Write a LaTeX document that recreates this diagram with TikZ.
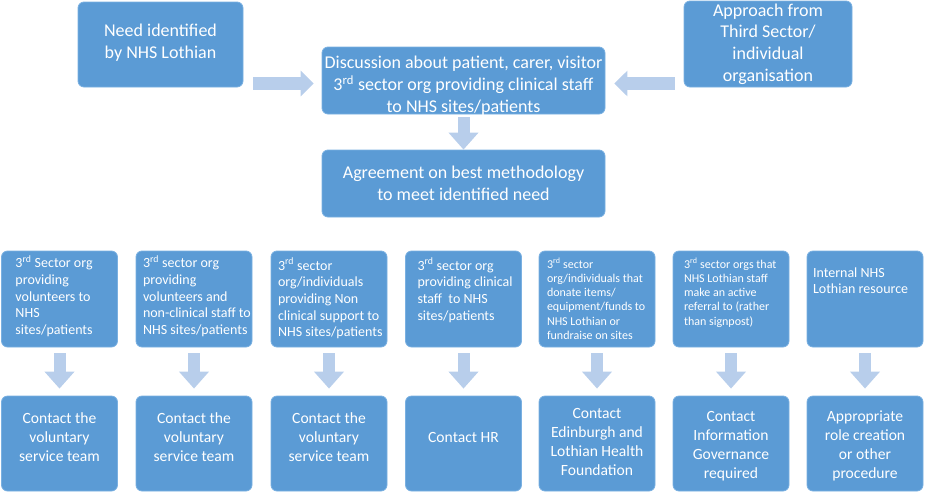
\documentclass[tikz,border=0pt]{standalone}
\usepackage{fontspec}
\setmainfont{Carlito}
\usepackage{tikz}
\usetikzlibrary{arrows.meta, positioning, calc}
\definecolor{boxblue}{RGB}{91,155,213}
\definecolor{boxedge}{RGB}{122,176,225}
\definecolor{arrowblue}{RGB}{184,206,235}
\newcommand{\rdsup}{\smash{\textsuperscript{rd}}}
\newcommand{\srclines}[3]{\parbox[c][86pt][t]{116pt}{\vspace*{#2pt}\hspace*{#1pt}\begin{tabular}[t]{@{}l@{}}#3\end{tabular}}}
\newcommand{\boxlines}[4]{\parbox[c][#1pt][c]{#2pt}{\centering #4\par\vspace{#3pt}}}

\begin{document}
\begin{tikzpicture}[x=1pt, y=-1pt,
  box/.style={fill=boxblue, draw=boxedge, line width=0.8pt, rounded corners=6pt, text=white, inner sep=0pt},
  topbox/.style={box, font=\fontsize{18}{21.7}\selectfont},
  srcbox/.style={box, minimum width=116pt, minimum height=96pt, font=\fontsize{14}{16.7}\selectfont},
  smallsrc/.style={srcbox, font=\fontsize{12}{14.3}\selectfont},
  resbox/.style={box, minimum width=116pt, minimum height=95pt, font=\fontsize{15.6}{19}\selectfont},
  blockarrow/.style={draw=arrowblue, line width=12pt, -{Triangle[width=29pt,length=17pt]}},
  sidearrow/.style={draw=arrowblue, line width=13pt, -{Triangle[width=25pt,length=13pt]}}]
  \useasboundingbox (0,0) rectangle (926,493);

  % top part
  \node[topbox] (need) at (160.5,44.5) {\boxlines{85}{165}{4}{Need identified\\by NHS Lothian}};
  \node[topbox] (approach) at (768,44) {\boxlines{86}{168}{0}{Approach from\\Third Sector/\\individual\\organisation}};
  \node[topbox] (disc) at (463.5,80.5) {\boxlines{67}{283}{-10}{Discussion about patient, carer, visitor\\3\rdsup{} sector org providing clinical staff\\to NHS sites/patients}};
  \node[topbox] (agree) at (463.5,183.5) {\boxlines{67}{283}{0}{Agreement on best methodology\\to meet identified need}};

  \draw[sidearrow, shorten <=10pt, shorten >=8pt] ($(need.east |- disc.west)+(0,3)$) -- ($(disc.west)+(0,3)$);
  \draw[sidearrow, shorten <=9pt, shorten >=9pt] ($(approach.west |- disc.east)+(0,3)$) -- ($(disc.east)+(0,3)$);
  \draw[blockarrow, shorten <=3pt] (disc) -- (agree);

  % who is involved
  \node[srcbox] (s1) at (59.5,299) {\srclines{14}{0}{3\rdsup{} Sector org\\providing\\volunteers to\\NHS\\sites/patients}};
  \node[srcbox] (s2) at (194,299) {\srclines{7}{0}{3\rdsup{} sector org\\providing\\volunteers and\\non-clinical staff to\\NHS sites/patients}};
  \node[srcbox] (s3) at (329,299) {\srclines{7}{2.5}{3\rdsup{} sector\\org/individuals\\providing Non\\clinical support to\\NHS sites/patients}};
  \node[srcbox] (s4) at (463.5,299) {\srclines{12}{2.5}{3\rdsup{} sector org\\providing clinical\\staff~ to NHS\\sites/patients}};
  \node[smallsrc] (s5) at (597,299) {\srclines{8}{2}{3\rdsup{} sector\\org/individuals that\\donate items/\\equipment/funds to\\NHS Lothian or\\fundraise on sites}};
  \node[smallsrc] (s6) at (731,299) {\srclines{11}{2}{3\rdsup{} sector orgs that\\NHS Lothian staff\\make an active\\referral to (rather\\than signpost)}};
  \node[srcbox] (s7) at (865,299) {\srclines{6}{9.5}{Internal NHS\\Lothian resource}};

  % what to do
  \node[resbox] (r1) at (59.5,443.5) {\boxlines{95}{116}{13}{Contact the\\voluntary\\service team}};
  \node[resbox] (r2) at (194,443.5) {\boxlines{95}{116}{13}{Contact the\\voluntary\\service team}};
  \node[resbox] (r3) at (329,443.5) {\boxlines{95}{116}{13}{Contact the\\voluntary\\service team}};
  \node[resbox] (r4) at (463.5,443.5) {\boxlines{95}{116}{12}{Contact HR}};
  \node[resbox] (r5) at (597,443.5) {\boxlines{95}{116}{4}{Contact\\Edinburgh and\\Lothian Health\\Foundation}};
  \node[resbox] (r6) at (731,443.5) {\boxlines{95}{116}{-6}{Contact\\Information\\Governance\\required}};
  \node[resbox] (r7) at (865,443.5) {\boxlines{95}{116}{-4}{Appropriate\\role creation\\or other\\procedure}};

  \foreach \i in {1,...,7} {
    \draw[blockarrow, shorten <=6pt, shorten >=7pt] (s\i) -- (r\i);
  }
\end{tikzpicture}
\end{document}
